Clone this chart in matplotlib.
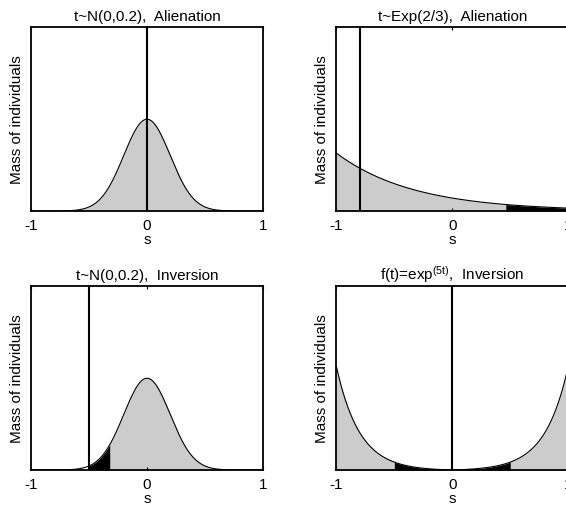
import numpy as np
import matplotlib
matplotlib.use("Agg")
import matplotlib.pyplot as plt

plt.rcParams['font.family'] = ['Liberation Sans', 'DejaVu Sans']
plt.rcParams['mathtext.fontset'] = 'custom'
plt.rcParams['mathtext.rm'] = 'Liberation Sans'
plt.rcParams['mathtext.it'] = 'Liberation Sans'

# Panel definitions
titles = ["t~N(0,0.2),  Alienation", "t~Exp(2/3),  Alienation",
          "t~N(0,0.2),  Inversion", "f(t)=exp$^{(5t)}$,  Inversion"]
normal_mean = 0.0
normal_sd = 0.2
exp_start = -1.0
exp_rate = 1.5
exp_scale = 1.26          # height at s=-1
u_scale = 2.26            # height at |s|=1 for the exp(5t) panel
u_rate = 5.0
vlines = [0.0, -0.8, -0.5, 0.0]
# (start, end) of black segments
black_ranges = [[], [(0.46, 1.0)], [(-0.5, -0.32)], [(-0.5, 0.0), (0.0, 0.5)]]
# (start, end) of grey segments
grey_ranges = [[(-1, 1)], [(-1, 0.46)], [(-0.32, 1)], [(-1, -0.5), (0.5, 1)]]
xticks = [-1, 0, 1]
ylim_top = 4.0

s = np.linspace(-1, 1, 2001)
def normal(x):
    return np.exp(-0.5 * ((x - normal_mean) / normal_sd) ** 2) / (normal_sd * np.sqrt(2 * np.pi))
def expo(x):
    return exp_scale * np.exp(-exp_rate * (x - exp_start))
def ushape(x):
    return u_scale * (np.exp(u_rate * np.abs(x)) - 1) / (np.exp(u_rate) - 1)
curves = [normal, expo, normal, ushape]

fig = plt.figure(figsize=(5.66, 5.10), dpi=100)
W, H = 566, 510
boxes = [(31, 28), (336.3, 28), (31, 287), (336.3, 287)]
aw, ah = 232, 184

grey = '#cccccc'
fs = 11
for i in range(4):
    x0, y0 = boxes[i]
    ax = fig.add_axes([x0 / W, 1 - (y0 + ah) / H, aw / W, ah / H])
    f = curves[i]
    y = f(s)
    for a, b in grey_ranges[i]:
        m = (s >= a) & (s <= b)
        ax.fill_between(s[m], 0, y[m], color=grey, lw=0)
    for a, b in black_ranges[i]:
        m = (s >= a) & (s <= b)
        ax.fill_between(s[m], 0, y[m], color='black', lw=0)
    ax.plot(s, y, color='black', lw=0.8)
    ax.axvline(vlines[i], color='black', lw=1.5)
    ax.set_xlim(-1, 1)
    ax.set_ylim(0, ylim_top)
    ax.set_xticks(xticks)
    ax.set_xticklabels([str(t) for t in xticks])
    ax.set_yticks([])
    ax.tick_params(axis='x', direction='in', length=2, top=True, labelsize=fs, pad=5)
    for sp in ax.spines.values():
        sp.set_linewidth(1.3)
    ax.set_title(titles[i], fontsize=fs, pad=5)
    ax.set_xlabel('s', fontsize=fs, labelpad=0)
    ax.set_ylabel('Mass of individuals', fontsize=fs, labelpad=5)

fig.savefig('out.png', dpi=100)
